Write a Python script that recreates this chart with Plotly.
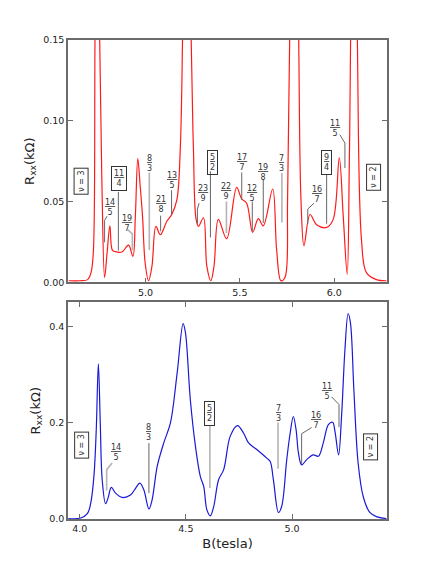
import plotly.graph_objects as go

# top trace (red), B in tesla, Rxx in kOhm
top_b = [4.593, 4.654, 4.693, 4.711, 4.723, 4.732, 4.744, 4.757, 4.769, 4.783,
         4.796, 4.811, 4.824, 4.840, 4.875, 4.910, 4.933, 4.946, 4.959, 4.972,
         4.984, 4.998, 5.016, 5.034, 5.055, 5.078, 5.113, 5.139, 5.166, 5.184,
         5.196, 5.219, 5.242, 5.254, 5.268, 5.281, 5.307, 5.325, 5.346, 5.363,
         5.386, 5.430, 5.483, 5.510, 5.536, 5.568, 5.598, 5.624, 5.674, 5.695,
         5.718, 5.739, 5.753, 5.764, 5.787, 5.812, 5.824, 5.840, 5.872, 5.907,
         5.960, 5.995, 6.027, 6.048, 6.069, 6.080, 6.087, 6.104, 6.123, 6.145,
         6.171, 6.224, 6.277]
top_r = [0.001, 0.001, 0.0017, 0.006, 0.018, 0.15, 0.40, 0.15, 0.06, 0.003,
         0.018, 0.035, 0.020, 0.019, 0.0188, 0.023, 0.016, 0.041, 0.0766, 0.059,
         0.041, 0.012, 0.001, 0.010, 0.0347, 0.0295, 0.0378, 0.042, 0.051, 0.082,
         0.15, 0.45, 0.15, 0.082, 0.039, 0.0347, 0.040, 0.010, 0.001, 0.010,
         0.039, 0.027, 0.0588, 0.0516, 0.049, 0.031, 0.0394, 0.035, 0.0578, 0.020,
         0.001, 0.003, 0.051, 0.15, 0.45, 0.15, 0.051, 0.0227, 0.042, 0.0357,
         0.034, 0.039, 0.077, 0.041, 0.005, 0.072, 0.15, 0.45, 0.15, 0.026,
         0.006, 0.0017, 0.001]

# bottom trace (blue)
bot_b = [3.947, 4.005, 4.036, 4.052, 4.067, 4.078, 4.088, 4.097, 4.106, 4.122,
         4.133, 4.149, 4.169, 4.200, 4.239, 4.263, 4.283, 4.302, 4.326, 4.341,
         4.365, 4.396, 4.427, 4.459, 4.487, 4.498, 4.521, 4.545, 4.568, 4.584,
         4.599, 4.615, 4.631, 4.654, 4.678, 4.709, 4.743, 4.772, 4.795, 4.834,
         4.881, 4.897, 4.912, 4.936, 4.951, 4.975, 4.991, 5.006, 5.019, 5.030,
         5.045, 5.069, 5.100, 5.124, 5.147, 5.171, 5.191, 5.202, 5.219, 5.233,
         5.249, 5.264, 5.275, 5.291, 5.311, 5.335, 5.366, 5.397, 5.444]
bot_r = [0.0, 0.001, 0.010, 0.032, 0.088, 0.185, 0.323, 0.199, 0.081, 0.031,
         0.042, 0.065, 0.053, 0.044, 0.049, 0.063, 0.074, 0.060, 0.020, 0.039,
         0.109, 0.158, 0.199, 0.304, 0.407, 0.388, 0.248, 0.151, 0.088, 0.067,
         0.018, 0.0057, 0.025, 0.081, 0.102, 0.172, 0.194, 0.178, 0.158, 0.144,
         0.126, 0.119, 0.081, 0.0126, 0.025, 0.123, 0.178, 0.213, 0.185, 0.137,
         0.112, 0.123, 0.133, 0.130, 0.158, 0.196, 0.201, 0.182, 0.133, 0.213,
         0.353, 0.428, 0.408, 0.269, 0.116, 0.046, 0.0126, 0.004, 0.0]

# filling-factor labels: text, label position, boxed, leader line points
top_labels = ["14/5", "11/4", "19/7", "8/3", "21/8", "13/5", "5/2", "23/9",
              "22/9", "17/7", "12/5", "19/8", "7/3", "16/7", "9/4", "11/5"]
top_lab_b = [4.810, 4.858, 4.901, 5.020, 5.080, 5.138, 5.357, 5.302,
             5.429, 5.510, 5.566, 5.623, 5.723, 5.907, 5.960, 6.004]
top_lab_r = [0.0466, 0.0640, 0.0367, 0.0738, 0.0485, 0.0630, 0.0741, 0.0549,
             0.0563, 0.0743, 0.0549, 0.0680, 0.0738, 0.0543, 0.0743, 0.0955]
top_boxed = [False, True, False, False, False, False, True, False,
             False, False, False, False, False, False, True, False]
top_lead_b = [[4.796, 4.783, 4.783], [4.856, 4.856], [4.905, 4.930, 4.930],
              [5.020, 5.020], [5.080, 5.080], [5.138, 5.138], [5.344, 5.344],
              [5.284, 5.275, 5.275], [5.429, 5.429], [5.510, 5.510],
              [5.566, 5.566], [5.624, 5.624], [5.723, 5.723],
              [5.893, 5.860, 5.860], [5.960, 5.960], [6.030, 6.057, 6.057]]
top_lead_r = [[0.041, 0.0384, 0.0248], [0.056, 0.0197], [0.0326, 0.0300, 0.0199],
              [0.068, 0.020], [0.0413, 0.0316], [0.057, 0.0419], [0.0687, 0.0278],
              [0.049, 0.0454, 0.0363], [0.050, 0.0306], [0.068, 0.051],
              [0.050, 0.0316], [0.064, 0.0367], [0.0677, 0.0371],
              [0.049, 0.0454, 0.0363], [0.0667, 0.0363], [0.0914, 0.0862, 0.0708]]
top_nu_b = [4.656, 6.208]
top_nu_r = [0.0627, 0.065]

bot_labels = ["14/5", "8/3", "5/2", "7/3", "16/7", "11/5"]
bot_lab_b = [4.169, 4.326, 4.613, 4.934, 5.111, 5.166]
bot_lab_r = [0.138, 0.180, 0.219, 0.219, 0.205, 0.265]
bot_boxed = [False, False, True, False, False, False]
bot_lead_b = [[4.153, 4.127, 4.127], [4.326, 4.326], [4.613, 4.613],
              [4.934, 4.934], [5.092, 5.045, 5.045], [5.186, 5.221, 5.221]]
bot_lead_r = [[0.1158, 0.102, 0.0586], [0.1576, 0.053], [0.1938, 0.0635],
              [0.2007, 0.104], [0.190, 0.177, 0.114], [0.254, 0.238, 0.191]]
bot_nu_b = [4.008, 5.368]
bot_nu_r = [0.153, 0.149]
nu_text = ["\u03bd = 3", "\u03bd = 2"]

# which leaders are drawn in the pale grey
top_pale = {"19/7", "8/3", "7/3", "22/9"}
bot_pale = {"14/5", "5/2", "7/3"}

FONT = "DejaVu Sans"
GRAY = "#6b6b6b"


def frac(s):
    n, d = s.split("/")
    return f"<u>{n}</u><br>{d}"


fig = go.Figure()
fig.add_trace(go.Scatter(x=top_b, y=top_r, mode="lines", line_shape="spline",
                         line=dict(color="#ff1a1a", width=1.2),
                         xaxis="x", yaxis="y", showlegend=False))
fig.add_trace(go.Scatter(x=bot_b, y=bot_r, mode="lines", line_shape="spline",
                         line=dict(color="#1a1ad6", width=1.2),
                         xaxis="x2", yaxis="y2", showlegend=False))

annotations = []
for xa, ya, labs, lb, lr, boxed, ldb, ldr, nb, nr, pale in [
    ("x", "y", top_labels, top_lab_b, top_lab_r, top_boxed, top_lead_b, top_lead_r,
     top_nu_b, top_nu_r, top_pale),
    ("x2", "y2", bot_labels, bot_lab_b, bot_lab_r, bot_boxed, bot_lead_b, bot_lead_r,
     bot_nu_b, bot_nu_r, bot_pale),
]:
    for t, b, r, bx in zip(labs, lb, lr, boxed):
        a = dict(x=b, y=r, xref=xa, yref=ya, text=frac(t), showarrow=False,
                 font=dict(family=FONT, size=8, color="#333"))
        if bx:
            a.update(bordercolor="#333", borderwidth=1, borderpad=2)
        annotations.append(a)
    for t, xs, ys in zip(labs, ldb, ldr):
        ln = dict(color="#b4b4b4", width=1.6) if t in pale else dict(color="#666", width=1)
        fig.add_trace(go.Scatter(x=xs, y=ys, mode="lines", xaxis=xa, yaxis=ya,
                                 line=ln, showlegend=False, hoverinfo="skip"))
    for t, b, r in zip(nu_text, nb, nr):
        annotations.append(dict(x=b, y=r, xref=xa, yref=ya, text=t, showarrow=False,
                                textangle=-90, font=dict(family=FONT, size=8, color="#333"),
                                bordercolor="#333", borderwidth=1, borderpad=2,
                                bgcolor="white"))

axis_common = dict(showline=True, linecolor=GRAY, linewidth=1.5,
                   ticks="inside", ticklen=5, tickcolor=GRAY, showgrid=False,
                   zeroline=False, automargin=False,
                   tickfont=dict(family=FONT, size=9.5, color="#222"))

fig.update_layout(
    width=443, height=573,
    margin=dict(l=68, r=56, t=40, b=54),
    plot_bgcolor="white", paper_bgcolor="white",
    xaxis=dict(domain=[0, 1], range=[4.589, 6.280], tickvals=[5.0, 5.5, 6.0],
               ticktext=["5.0", "5.5", "6.0"], anchor="y", mirror=True, **axis_common),
    yaxis=dict(domain=[0.494, 1], range=[0, 0.15], tickvals=[0, 0.05, 0.10, 0.15],
               ticktext=["0.00", "0.05", "0.10", "0.15"], anchor="x", mirror="ticks",
               title=dict(text="R<sub>xx</sub>(k\u03a9)", standoff=6,
                          font=dict(family=FONT, size=13, color="#222")),
               **axis_common),
    xaxis2=dict(domain=[0, 1], range=[3.945, 5.447], tickvals=[4.0, 4.5, 5.0],
                ticktext=["4.0", "4.5", "5.0"], anchor="y2", mirror="ticks",
                title=dict(text="B(tesla)", standoff=6,
                           font=dict(family=FONT, size=13, color="#222")),
                **axis_common),
    yaxis2=dict(domain=[0, 0.452], range=[-0.001, 0.451], tickvals=[0, 0.2, 0.4],
                ticktext=["0.0", "0.2", "0.4"], anchor="x2", mirror="ticks",
                title=dict(text="R<sub>xx</sub>(k\u03a9)", standoff=6,
                           font=dict(family=FONT, size=13, color="#222")),
                **axis_common),
    annotations=annotations,
)

# drop the browser's default body margin so the figure sits at the page origin
fig.write_html("out.html", config={"displayModeBar": False},
               post_script="document.body.style.margin='0';")
